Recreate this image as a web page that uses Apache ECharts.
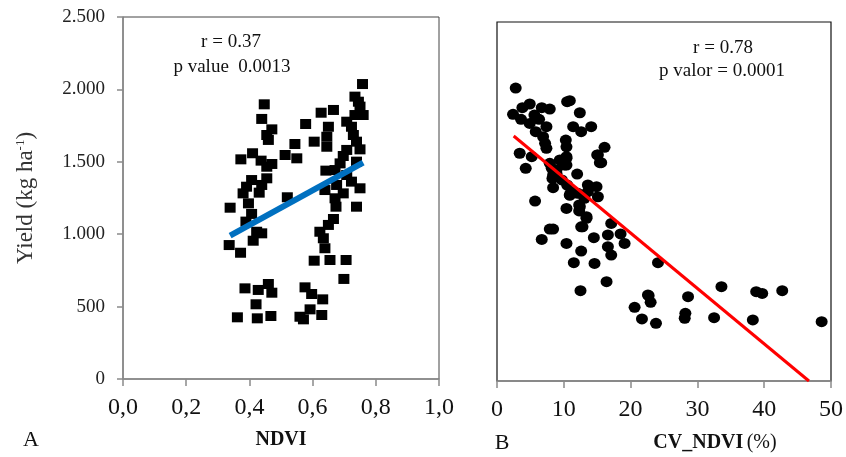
<!DOCTYPE html>
<html><head><meta charset="utf-8">
<script src="https://cdn.jsdelivr.net/npm/echarts@6/dist/echarts.min.js"></script>
<style>html,body{margin:0;padding:0;background:#fff}#c{width:846px;height:457px}</style>
</head><body><div id="c"></div>
<script>
// Panel A: NDVI vs yield
const ndviX = [0.758,0.447,0.439,0.471,0.455,0.460,0.627,0.666,0.578,0.650,0.645,0.645,0.605,0.544,0.513,0.550,
 0.734,0.745,0.750,0.760,0.734,0.708,0.723,0.729,0.739,0.750,0.708,0.697,0.687,0.739,0.671,0.642,0.708,0.723,0.750,
 0.676,0.639,0.697,0.671,0.674,0.739,0.666,0.650,0.623,0.634,0.639,0.605,0.655,0.706,0.699,0.576,0.597,0.632,0.592,
 0.629,0.560,0.571,0.373,0.410,0.437,0.455,0.471,0.407,0.455,0.391,0.439,0.380,0.431,0.397,0.339,0.520,0.407,0.389,
 0.423,0.439,0.412,0.336,0.372,0.386,0.428,0.460,0.471,0.421,0.362,0.425,0.468];
const ndviYield = [2037,1897,1796,1724,1685,1651,1839,1858,1761,1742,1673,1604,1639,1623,1547,1524,
 1950,1915,1881,1823,1823,1777,1742,1685,1639,1586,1582,1540,1489,1501,1443,1439,1409,1363,1317,
 1340,1305,1282,1248,1190,1190,1105,1064,1017,972,903,817,822,822,691,633,587,550,481,
 442,430,412,1517,1559,1508,1466,1485,1374,1386,1328,1340,1282,1287,1213,1183,1255,1140,1087,
 1017,1006,955,925,872,626,615,656,596,516,426,419,435];
const ndviFitX = [0.339, 0.760];
const ndviFitY = [990, 1494];

// Panel B: CV_NDVI vs yield
const cvX = [2.8,3.8,4.9,2.4,3.6,5.6,6.7,7.9,10.5,10.9,12.4,6.3,4.9,5.8,7.4,6.9,7.2,7.4,11.4,12.6,14.1,10.3,10.4,16.1,
 15.1,15.6,3.4,5.2,4.3,8.2,8.9,9.4,10.4,10.4,8.4,12.0,8.4,13.6,14.9,15.1,5.7,10.9,10.4,12.4,13.4,12.6,17.1,7.9,8.4,
 6.7,10.4,12.6,14.5,16.6,16.6,17.1,18.5,19.1,11.5,14.6,16.4,12.5,22.6,24.1,20.6,22.7,23.0,21.7,23.8,28.6,28.2,28.1,
 32.5,33.6,38.3,38.8,39.7,42.7,48.6,8.9,9.7,10.5,11.1,10.9,12.1,13.1,13.6,10.1,8.3,7.9,10.4,12.3,15.0,15.4,12.8,13.4,12.3];
const cvYield = [2040,1903,1929,1857,1822,1852,1903,1894,1945,1952,1868,1822,1794,1736,1771,1701,1655,1620,1771,1736,1771,1678,1631,1627,
 1574,1520,1586,1562,1481,1481,1469,1539,1551,1504,1434,1441,1346,1365,1353,1283,1253,1295,1202,1214,1144,1074,1097,1058,1058,
 986,958,905,998,1017,935,877,1024,958,824,819,692,629,599,824,513,594,548,432,402,587,471,437,
 441,657,425,622,610,629,413,1446,1400,1365,1318,1295,1307,1272,1318,1504,1411,1516,1562,1226,1574,1520,1074,1133,1184];
const cvFitX = [2.5, 46.7];
const cvFitY = [1706, 0];

// Tick labels
const yTickLabels = ['0','500','1.000','1.500','2.000','2.500'];
const ndviTickLabels = ['0,0','0,2','0,4','0,6','0,8','1,0'];
const cvTickLabels = ['0','10','20','30','40','50'];

const serif = "'Liberation Serif','DejaVu Serif',serif";
const zip = (a,b) => a.map((v,i)=>[v,b[i]]);

const chart = echarts.init(document.getElementById('c'), null, {renderer:'canvas'});
const axisGray = '#8a8a8a';
chart.setOption({
  animation:false,
  backgroundColor:'#fff',
  grid:[
    {left:123, top:17, width:316, height:362, show:true, borderColor:'#444', borderWidth:1, backgroundColor:'transparent'},
    {left:497, top:22, width:335, height:359, show:true, borderColor:'#111', borderWidth:1.2, backgroundColor:'transparent'}
  ],
  xAxis:[
    {gridIndex:0, type:'value', min:0, max:1, interval:0.2,
     axisLine:{show:true, onZero:false, lineStyle:{color:axisGray, width:1.5}},
     axisTick:{show:true, length:7, lineStyle:{color:axisGray, width:1.5}},
     splitLine:{show:false},
     axisLabel:{margin:17, fontFamily:serif, fontSize:24, color:'#111',
       formatter:v=>ndviTickLabels[Math.round(v/0.2)]}},
    {gridIndex:1, type:'value', min:0, max:50, interval:10,
     axisLine:{show:true, onZero:false, lineStyle:{color:axisGray, width:1.5}},
     axisTick:{show:true, length:7, lineStyle:{color:axisGray, width:1.5}},
     splitLine:{show:false},
     axisLabel:{margin:17, fontFamily:serif, fontSize:24, color:'#111',
       formatter:v=>cvTickLabels[Math.round(v/10)]}}
  ],
  yAxis:[
    {gridIndex:0, type:'value', min:0, max:2500, interval:500,
     name:'{a|Yield (kg ha}{s|-1}{a|)}', nameLocation:'middle', nameRotate:90, nameGap:86,
     nameTextStyle:{fontFamily:serif, fontSize:23, fontWeight:'normal', color:'#333',
       rich:{a:{fontFamily:serif, fontSize:23, fontWeight:'normal', color:'#333'},
             s:{fontFamily:serif, fontSize:13, fontWeight:'normal', color:'#333', verticalAlign:'top', padding:[0,0,10,0]}}},
     axisLine:{show:true, onZero:false, lineStyle:{color:axisGray, width:1.5}},
     axisTick:{show:true, length:6, lineStyle:{color:axisGray, width:1.5}},
     splitLine:{show:false},
     axisLabel:{margin:18, fontFamily:serif, fontSize:19, color:'#222',
       formatter:v=>yTickLabels[Math.round(v/500)]}},
    {gridIndex:1, type:'value', min:0, max:2500, interval:500,
     axisLine:{show:false}, axisTick:{show:false}, axisLabel:{show:false}, splitLine:{show:false}}
  ],
  series:[
    {type:'scatter', xAxisIndex:0, yAxisIndex:0, data:zip(ndviX, ndviYield),
     symbol:'rect', symbolSize:[11,10], itemStyle:{color:'#000', opacity:1}},
    {type:'line', xAxisIndex:0, yAxisIndex:0, data:zip(ndviFitX, ndviFitY),
     symbol:'none', lineStyle:{color:'#0070C0', width:6}, z:5},
    {type:'scatter', xAxisIndex:1, yAxisIndex:1, data:zip(cvX, cvYield),
     symbol:'circle', symbolSize:[12,11], itemStyle:{color:'#000', opacity:1}},
    {type:'line', xAxisIndex:1, yAxisIndex:1, data:zip(cvFitX, cvFitY),
     symbol:'none', lineStyle:{color:'#FF0000', width:3}, z:5}
  ],
  graphic:[
    {type:'text', x:231, y:42, style:{text:'r = 0.37', font:'19px '+serif, fill:'#111', textAlign:'center', textVerticalAlign:'middle'}},
    {type:'text', x:232, y:67, style:{text:'p value  0.0013', font:'19px '+serif, fill:'#111', textAlign:'center', textVerticalAlign:'middle'}},
    {type:'text', x:723, y:48, style:{text:'r = 0.78', font:'19px '+serif, fill:'#111', textAlign:'center', textVerticalAlign:'middle'}},
    {type:'text', x:722, y:71, style:{text:'p valor = 0.0001', font:'19px '+serif, fill:'#111', textAlign:'center', textVerticalAlign:'middle'}},
    {type:'text', x:31, y:440, style:{text:'A', font:'22px '+serif, fill:'#111', textAlign:'center', textVerticalAlign:'middle'}},
    {type:'text', x:502, y:443, style:{text:'B', font:'22px '+serif, fill:'#111', textAlign:'center', textVerticalAlign:'middle'}},
    {type:'text', x:281, y:440, style:{text:'NDVI', font:'bold 20px '+serif, fill:'#111', textAlign:'center', textVerticalAlign:'middle'}},
    {type:'text', x:715, y:443, style:{
      text:'{b|CV_NDVI} {n|(%)}', textAlign:'center', textVerticalAlign:'middle',
      rich:{b:{fontFamily:serif, fontSize:20, fontWeight:'bold', fill:'#111', color:'#111'},
            n:{fontFamily:serif, fontSize:20, fontWeight:'normal', fill:'#111', color:'#111'}}}}
  ]
});
</script></body></html>
